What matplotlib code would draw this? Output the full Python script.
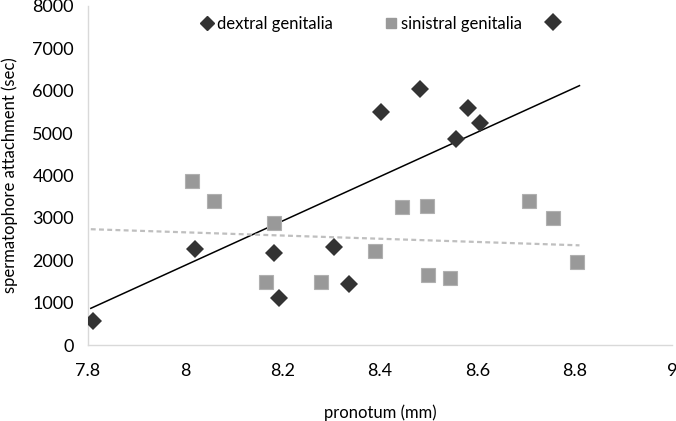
import numpy as np
import matplotlib
matplotlib.use("Agg")
import matplotlib.pyplot as plt
from matplotlib.lines import Line2D

plt.rcParams['font.family'] = ['Lato', 'DejaVu Sans']

dextral_x = [7.81, 8.02, 8.183, 8.193, 8.306, 8.337, 8.403, 8.483, 8.557, 8.58, 8.605, 8.755]
dextral_y = [560, 2280, 2170, 1110, 2310, 1440, 5500, 6040, 4870, 5600, 5250, 7620]

sinistral_x = [8.014, 8.06, 8.183, 8.166, 8.278, 8.389, 8.446, 8.496, 8.498, 8.543, 8.706, 8.755, 8.805]
sinistral_y = [3880, 3390, 2890, 1480, 1480, 2210, 3270, 3290, 1650, 1580, 3410, 2990, 1960]

# trendline end points
trend_x = [7.806, 8.81]
dextral_trend_y = [870, 6120]
sinistral_trend_y = [2735, 2355]

x_ticks = [7.8, 8, 8.2, 8.4, 8.6, 8.8, 9]
x_tick_labels = ['7.8', '8', '8.2', '8.4', '8.6', '8.8', '9']
y_ticks = [0, 1000, 2000, 3000, 4000, 5000, 6000, 7000, 8000]

fig = plt.figure(figsize=(6.76, 4.21), dpi=100)
ax = fig.add_axes([0.130, 0.180, 0.864, 0.806])

ax.plot(trend_x, dextral_trend_y, color='black', lw=1.1, zorder=2)
ax.plot(trend_x, sinistral_trend_y, color='#bfbfbf', lw=1.6, ls=(0, (2.2, 1.5)), zorder=2)

ax.plot(dextral_x, dextral_y, 'D', color='#333333', markersize=9.5, markeredgewidth=0, ls='none', zorder=3)
ax.plot(sinistral_x, sinistral_y, 's', color='#999999', markeredgecolor='#b0b0b0', markersize=10.5,
        markeredgewidth=0.8, ls='none', zorder=3)

ax.set_xlim(7.8, 9)
ax.set_ylim(0, 8000)
ax.set_xticks(x_ticks)
ax.set_xticklabels(x_tick_labels)
ax.set_yticks(y_ticks)
ax.tick_params(length=0, labelsize=13, colors='#000000', pad=10)
ax.tick_params(axis='x', pad=13)
for s in ['top', 'right']:
    ax.spines[s].set_visible(False)
for s in ['left', 'bottom']:
    ax.spines[s].set_color('#d9d9d9')
    ax.spines[s].set_linewidth(1)

ax.set_xlabel('pronotum (mm)', fontsize=12, labelpad=18)
ax.set_ylabel('spermatophore attachment (sec)', fontsize=12, labelpad=10)

handles = [Line2D([], [], marker='D', color='#333333', ls='none', markersize=7),
           Line2D([], [], marker='s', color='#999999', ls='none', markersize=7.5)]
ax.legend(handles, ['dextral genitalia', 'sinistral genitalia'], loc='upper center',
          bbox_to_anchor=(0.466, 1.015), ncol=2, frameon=False, fontsize=12,
          handletextpad=0.1, columnspacing=3.0, handlelength=1.0)

fig.savefig('out.png', dpi=100)
